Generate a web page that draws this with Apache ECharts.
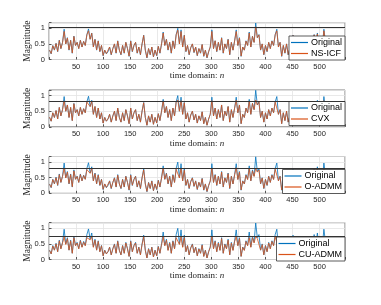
<!DOCTYPE html>
<html><head><meta charset="utf-8">
<script src="https://cdn.jsdelivr.net/npm/echarts@6/dist/echarts.min.js"></script>
<style>html,body{margin:0;padding:0;background:#fff}#c{width:381px;height:305px}</style>
</head><body><div id="c"></div>
<script>
// sample index n = nStart + nStep*k
const nStart = 1, nStep = 3;
const xTicks = [50,100,150,200,250,300,350,400,450,500];
const yTicks = [0,0.5,1];
const methods = ['NS-ICF','CVX','O-ADMM','CU-ADMM'];
const thresholds = [1.04,0.81,0.81,0.74];

const original = [
0.30,0.18,0.45,0.30,0.52,0.25,0.62,0.35,0.55,0.97,
0.50,0.70,0.30,0.62,0.20,0.75,0.45,0.55,0.35,0.62,
0.40,0.58,0.45,0.80,0.98,0.65,0.85,0.40,0.65,0.30,
0.60,0.25,0.45,0.12,0.30,0.18,0.25,0.40,0.15,0.35,
0.50,0.20,0.60,0.30,0.15,0.45,0.20,0.55,0.35,0.10,
0.60,0.25,0.45,0.55,0.20,0.40,0.15,0.50,0.78,0.30,
0.05,0.35,0.15,0.40,0.08,0.30,0.12,0.42,0.20,0.50,
0.88,0.45,0.65,0.30,0.55,0.20,0.60,0.35,0.80,1.00,
0.50,0.95,0.40,0.78,0.25,0.45,0.15,0.38,0.50,0.22,
0.40,0.12,0.35,0.20,0.48,0.10,0.30,0.05,0.25,0.40,
0.95,0.35,0.60,0.25,0.55,0.30,0.70,0.20,0.50,0.35,
0.65,0.15,0.55,0.30,0.60,0.95,0.45,0.70,0.10,0.40,
0.30,0.60,0.45,0.88,0.40,0.75,0.55,1.17,0.70,0.80,
0.30,0.50,0.15,0.45,0.25,0.55,0.35,0.60,0.45,0.80,
0.97,0.40,0.55,0.10,0.45,0.20,0.50,0.15,0.35,0.60,
0.78,0.30,0.50,0.20,0.45,0.55,0.25,0.45,0.30,0.60,
0.40,0.70,0.45,0.80,0.50,0.85,0.35,0.60,0.40,0.97,
0.55];

const nsicf = [
0.30,0.19,0.44,0.31,0.51,0.26,0.61,0.35,0.54,0.90,
0.50,0.69,0.31,0.61,0.21,0.74,0.45,0.55,0.35,0.61,
0.40,0.58,0.45,0.79,0.92,0.65,0.84,0.40,0.64,0.31,
0.59,0.26,0.45,0.13,0.30,0.19,0.25,0.40,0.16,0.35,
0.50,0.21,0.59,0.30,0.16,0.45,0.21,0.55,0.35,0.11,
0.59,0.26,0.45,0.55,0.21,0.40,0.16,0.50,0.77,0.30,
0.06,0.35,0.16,0.40,0.09,0.30,0.13,0.42,0.21,0.50,
0.85,0.45,0.64,0.31,0.55,0.21,0.59,0.35,0.79,0.94,
0.50,0.90,0.40,0.77,0.26,0.45,0.16,0.38,0.50,0.23,
0.40,0.13,0.35,0.21,0.48,0.11,0.30,0.06,0.25,0.40,
0.90,0.35,0.60,0.26,0.55,0.30,0.69,0.21,0.50,0.35,
0.64,0.16,0.55,0.30,0.59,0.90,0.45,0.69,0.11,0.40,
0.30,0.59,0.45,0.85,0.40,0.74,0.55,1.05,0.70,0.79,
0.31,0.50,0.16,0.45,0.26,0.55,0.35,0.59,0.45,0.79,
0.92,0.40,0.55,0.11,0.45,0.21,0.50,0.16,0.35,0.59,
0.77,0.30,0.50,0.21,0.45,0.55,0.26,0.45,0.30,0.59,
0.40,0.69,0.45,0.79,0.50,0.82,0.35,0.60,0.40,0.92,
0.55];

const cvx = [
0.31,0.18,0.45,0.30,0.52,0.25,0.62,0.35,0.55,0.83,
0.50,0.70,0.30,0.62,0.20,0.74,0.45,0.55,0.35,0.62,
0.40,0.58,0.45,0.79,0.85,0.65,0.82,0.40,0.65,0.30,
0.60,0.25,0.45,0.12,0.30,0.18,0.25,0.40,0.15,0.35,
0.50,0.20,0.60,0.30,0.15,0.45,0.20,0.55,0.35,0.10,
0.60,0.25,0.45,0.55,0.20,0.40,0.15,0.50,0.77,0.30,
0.05,0.35,0.15,0.40,0.08,0.30,0.12,0.42,0.20,0.50,
0.83,0.45,0.65,0.30,0.55,0.20,0.60,0.35,0.79,0.86,
0.50,0.84,0.40,0.77,0.25,0.45,0.15,0.38,0.50,0.22,
0.40,0.12,0.35,0.20,0.48,0.10,0.30,0.05,0.25,0.40,
0.84,0.35,0.60,0.25,0.55,0.30,0.70,0.20,0.50,0.35,
0.65,0.15,0.55,0.30,0.60,0.85,0.45,0.70,0.10,0.40,
0.30,0.60,0.45,0.81,0.40,0.75,0.55,0.86,0.70,0.79,
0.30,0.50,0.15,0.45,0.25,0.55,0.35,0.60,0.45,0.79,
0.84,0.40,0.55,0.10,0.45,0.20,0.50,0.15,0.35,0.60,
0.77,0.30,0.50,0.20,0.45,0.55,0.25,0.45,0.30,0.60,
0.40,0.70,0.45,0.79,0.50,0.82,0.35,0.60,0.40,0.84,
0.55];

const oadmm = [
0.29,0.19,0.44,0.31,0.50,0.26,0.60,0.35,0.54,0.80,
0.49,0.68,0.31,0.60,0.21,0.72,0.45,0.54,0.35,0.60,
0.40,0.57,0.45,0.76,0.80,0.64,0.79,0.40,0.63,0.31,
0.58,0.26,0.44,0.13,0.30,0.19,0.25,0.39,0.16,0.35,
0.49,0.21,0.58,0.30,0.16,0.44,0.21,0.54,0.35,0.11,
0.58,0.26,0.44,0.54,0.21,0.40,0.16,0.49,0.75,0.30,
0.06,0.34,0.16,0.39,0.09,0.30,0.13,0.41,0.21,0.49,
0.80,0.45,0.63,0.31,0.54,0.21,0.58,0.35,0.77,0.82,
0.49,0.80,0.40,0.74,0.26,0.44,0.16,0.38,0.49,0.23,
0.39,0.13,0.35,0.21,0.47,0.11,0.30,0.06,0.25,0.39,
0.80,0.35,0.59,0.26,0.54,0.30,0.68,0.21,0.49,0.35,
0.63,0.16,0.54,0.30,0.59,0.82,0.44,0.68,0.11,0.39,
0.30,0.58,0.44,0.78,0.40,0.72,0.54,0.80,0.68,0.75,
0.31,0.49,0.16,0.44,0.26,0.54,0.35,0.58,0.44,0.77,
0.80,0.40,0.54,0.11,0.44,0.21,0.49,0.16,0.35,0.58,
0.74,0.30,0.49,0.21,0.44,0.54,0.26,0.44,0.30,0.58,
0.40,0.68,0.44,0.77,0.49,0.80,0.35,0.59,0.40,0.80,
0.54];

const cuadmm = [
0.29,0.18,0.43,0.30,0.50,0.25,0.60,0.34,0.53,0.72,
0.48,0.67,0.30,0.60,0.20,0.70,0.44,0.53,0.34,0.60,
0.39,0.56,0.44,0.70,0.73,0.63,0.72,0.39,0.62,0.30,
0.58,0.25,0.44,0.12,0.29,0.18,0.25,0.39,0.15,0.34,
0.48,0.20,0.58,0.29,0.15,0.44,0.20,0.53,0.34,0.10,
0.58,0.25,0.44,0.53,0.20,0.39,0.15,0.48,0.72,0.29,
0.05,0.34,0.15,0.39,0.08,0.29,0.12,0.41,0.20,0.48,
0.72,0.44,0.62,0.29,0.53,0.20,0.58,0.34,0.70,0.72,
0.48,0.72,0.39,0.70,0.25,0.44,0.15,0.37,0.48,0.22,
0.39,0.12,0.34,0.20,0.46,0.10,0.29,0.05,0.25,0.39,
0.72,0.34,0.58,0.25,0.53,0.29,0.67,0.20,0.48,0.34,
0.62,0.15,0.53,0.29,0.58,0.73,0.44,0.67,0.10,0.39,
0.29,0.58,0.44,0.70,0.39,0.70,0.53,0.74,0.67,0.72,
0.30,0.48,0.15,0.44,0.25,0.53,0.34,0.58,0.44,0.72,
0.72,0.39,0.53,0.10,0.44,0.20,0.48,0.15,0.34,0.58,
0.70,0.29,0.48,0.20,0.44,0.53,0.25,0.44,0.29,0.58,
0.39,0.67,0.44,0.70,0.48,0.72,0.34,0.58,0.39,0.72,
0.53];

const recon = [nsicf, cvx, oadmm, cuadmm];
const pair = arr => arr.map((v,k) => [nStart + nStep*k, v]);

const tops = [22.7, 90, 156.5, 222.7];
const legTops = [36, 101.5, 169.5, 237];
const H = 36.8;
const SANS = 'Liberation Sans, Arial, Helvetica, sans-serif';
const SERIF = 'Liberation Serif, DejaVu Serif, serif';
const BLUE = '#0072BD', ORANGE = '#D95319';

const grid=[], xAxis=[], yAxis=[], series=[], legend=[];
for (let i=0;i<4;i++){
  grid.push({left:49, right:36, top:tops[i], height:H, show:true, borderColor:'#808080', borderWidth:1, backgroundColor:'#fff'});
  xAxis.push({type:'value', gridIndex:i, min:0, max:547, interval:50,
    axisLine:{show:false}, axisTick:{show:true, inside:true, length:2.5, lineStyle:{color:'#555'}},
    axisLabel:{fontSize:7.5, color:'#262626', fontFamily:SANS, margin:3,
      formatter: v => xTicks.includes(v) ? String(v) : ''},
    splitLine:{show:true, lineStyle:{color:'#e3e3e3', width:0.8}},
    name:'{a|time domain: }{b|n}', nameLocation:'middle', nameGap:12, nameMoveOverlap:false,
    nameTextStyle:{rich:{a:{fontFamily:SERIF, fontSize:9, color:'#262626'}, b:{fontFamily:SERIF, fontSize:9, fontStyle:'italic', color:'#262626'}}}
  });
  yAxis.push({type:'value', gridIndex:i, min:0, max:1.18, interval:0.5,
    axisLine:{show:false}, axisTick:{show:true, inside:true, length:2.5, lineStyle:{color:'#555'}},
    axisLabel:{fontSize:7.5, color:'#262626', fontFamily:SANS, margin:4,
      formatter: v => yTicks.includes(v) ? String(v) : ''},
    splitLine:{show:true, lineStyle:{color:'#e3e3e3', width:0.8}},
    name:'Magnitude', nameLocation:'middle', nameGap:17, nameMoveOverlap:false,
    nameTextStyle:{fontFamily:SERIF, fontSize:9.5, color:'#262626'}
  });
  series.push({name:'Original', type:'line', xAxisIndex:i, yAxisIndex:i, data:pair(original),
    showSymbol:false, lineStyle:{color:BLUE, width:0.8}, itemStyle:{color:BLUE}, animation:false, silent:true});
  series.push({name:methods[i], type:'line', xAxisIndex:i, yAxisIndex:i, data:pair(recon[i]),
    showSymbol:false, lineStyle:{color:ORANGE, width:0.8}, itemStyle:{color:ORANGE}, animation:false, silent:true,
    markLine:{silent:true, symbol:['none','none'], label:{show:false}, animation:false,
      lineStyle:{color:'#333', width:1, type:'solid'}, data:[{yAxis:thresholds[i]}]}});
  legend.push({data:[{name:'Original', itemStyle:{color:BLUE}}, {name:methods[i], itemStyle:{color:ORANGE}}],
    right:36, top:legTops[i], orient:'vertical',
    backgroundColor:'#fff', borderColor:'#333', borderWidth:0.8, padding:[2,3,2,2],
    itemGap:2, itemWidth:17, itemHeight:1.2, icon:'rect',
    textStyle:{fontFamily:SANS, fontSize:9, color:'#000', padding:[0,0,0,-2]}, selectedMode:false});
}

const chart = echarts.init(document.getElementById('c'), null, {renderer:'canvas'});
chart.setOption({animation:false, grid, xAxis, yAxis, series, legend});
</script></body></html>
